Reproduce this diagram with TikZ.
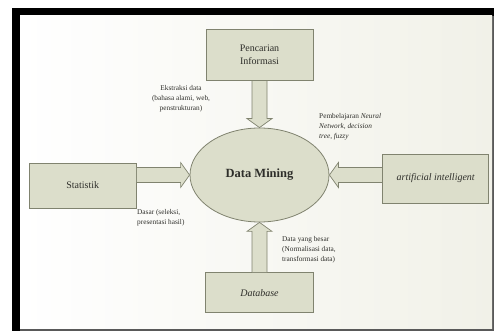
\documentclass[tikz,border=0pt]{standalone}
\usepackage{fontspec}
\setmainfont{Liberation Serif}
\usepackage{tikz}
\usetikzlibrary{positioning,calc,shapes.geometric}
\definecolor{boxfill}{HTML}{DCDECB}
\definecolor{boxline}{HTML}{80836F}
\definecolor{paper}{HTML}{F1F1E8}
\definecolor{ink}{HTML}{2E2E2A}

\begin{document}
\begin{tikzpicture}[
    x=1pt, y=1pt,
    box/.style={rectangle, draw=boxline, fill=boxfill, line width=0.8pt, minimum width=107pt, align=center, font=\fontsize{10}{13}\selectfont, text=ink},
    dm_node/.style={ellipse, draw=boxline, fill=boxfill, line width=0.8pt, minimum width=139pt, minimum height=94pt, inner sep=0pt, font=\fontsize{12.5}{15}\selectfont\bfseries, text=ink},
    lbl/.style={align=left, font=\fontsize{7.3}{9.8}\selectfont, text=ink, inner sep=0pt},
    barrow/.style={draw=boxline, fill=boxfill, line width=0.7pt, to path={
        let \p1=(\tikztostart), \p2=(\tikztotarget),
            \n1={atan2(\y2-\y1,\x2-\x1)}, \n2={veclen(\x2-\x1,\y2-\y1)} in
        ([shift={(\p1)},rotate=\n1]0,-7.5) -- ([shift={(\p1)},rotate=\n1]{\n2-9},-7.5)
        -- ([shift={(\p1)},rotate=\n1]{\n2-9},-12.5) -- ([shift={(\p1)},rotate=\n1]\n2,0)
        -- ([shift={(\p1)},rotate=\n1]{\n2-9},12.5) -- ([shift={(\p1)},rotate=\n1]{\n2-9},7.5)
        -- ([shift={(\p1)},rotate=\n1]0,7.5) -- cycle}}
]

% Frame
\useasboundingbox (0,0) rectangle (494,331);
\fill[gray!70!black] (12,0) rectangle (494,323);
\fill[black] (12,0) rectangle (20,323);
\fill[black] (12,315) rectangle (494,323);
\shade[left color=white, right color=paper] (20,2) rectangle (492,315);

% Nodes
\node[dm_node] (dm) at (259.5,156) {Data Mining};
\node[box, minimum height=51pt, above=47pt of dm] (info) {Pencarian\\Informasi};
\node[box, minimum height=45pt, left=53pt of dm, yshift=-10.5pt] (stat) {Statistik};
\node[box, minimum height=49pt, minimum width=106pt, right=53pt of dm, yshift=-3.5pt] (ai) {\textit{artificial intelligent}};
\node[box, minimum height=40pt, minimum width=108pt, below=50pt of dm] (db) {\textit{Database}};

% Labels
\node[lbl, align=center] (ekstraksi) at (181,232) {Ekstraksi data\\(bahasa alami, web,\\penstrukturan)};
\node[lbl, anchor=west] (belajar) at (319,204) {Pembelajaran \textit{Neural}\\\textit{Network, decision}\\\textit{tree, fuzzy}};
\node[lbl, anchor=west] (dasar) at (137,113) {Dasar (seleksi,\\presentasi hasil)};
\node[lbl, anchor=west] (besar) at (282,81) {Data yang besar\\(Normalisasi data,\\transformasi data)};

% Connections
\path[barrow] (info.south) to (dm.north);
\path[barrow] (stat.east |- dm.west) to (dm.west);
\path[barrow] (ai.west |- dm.east) to (dm.east);
\path[barrow] (db.north) to (dm.south);

\end{tikzpicture}
\end{document}
